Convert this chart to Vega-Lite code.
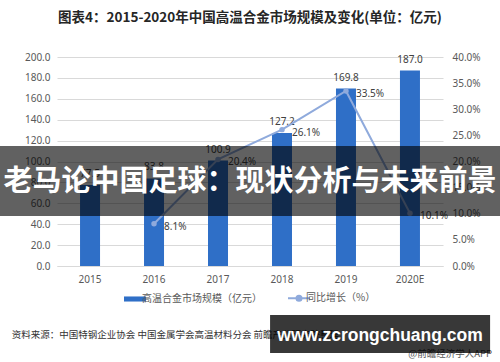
{
  "$schema": "https://vega.github.io/schema/vega-lite/v6.json",
  "autosize": "none",
  "width": 386,
  "height": 209,
  "padding": {"left": 57, "top": 57, "right": 57, "bottom": 96},
  "background": "white",
  "title": {
    "text": "图表4：2015-2020年中国高温合金市场规模及变化(单位：亿元)",
    "anchor": "middle",
    "frame": "group",
    "font": "Noto Sans CJK SC",
    "fontSize": 13.5,
    "fontWeight": "bold",
    "color": "#262626",
    "offset": 28
  },
  "data": {
    "values": [
      {"year": "2015", "size": 77.5, "growth": null},
      {"year": "2016", "size": 83.8, "growth": 0.081},
      {"year": "2017", "size": 100.9, "growth": 0.204},
      {"year": "2018", "size": 127.2, "growth": 0.261},
      {"year": "2019", "size": 169.8, "growth": 0.335},
      {"year": "2020E", "size": 187.0, "growth": 0.101}
    ]
  },
  "layer": [
    {
      "mark": {"type": "bar", "width": 20},
      "encoding": {
        "x": {"field": "year", "type": "nominal", "sort": null, "title": null,
              "axis": {"labelAngle": 0, "domain": true, "domainColor": "#d9d9d9", "ticks": false, "labelPadding": 8, "labelFontSize": 10, "labelColor": "#595959", "labelFont": "Noto Sans"}},
        "y": {"field": "size", "type": "quantitative", "title": null,
              "scale": {"domain": [0, 200], "nice": false},
              "axis": {"values": [0, 20, 40, 60, 80, 100, 120, 140, 160, 180, 200], "format": ".1f", "domain": false, "ticks": false, "labelPadding": 7, "gridColor": "#d9d9d9", "labelFontSize": 10, "labelColor": "#595959", "labelFont": "Noto Sans"}},
        "color": {"datum": "高温合金市场规模（亿元）", "type": "nominal",
                  "scale": {"domain": ["高温合金市场规模（亿元）", "同比增长（%）"], "range": ["#2F6FC7", "#8FAADC"]},
                  "legend": {
                    "orient": "none", "legendX": 73, "legendY": 236, "direction": "horizontal", "title": null,
                    "labelFontSize": 10, "labelColor": "#595959", "labelFont": "Noto Sans CJK SC",
                    "symbolSize": 484, "columnPadding": 22, "labelOffset": 2,
                    "encode": {"symbols": {"update": {
                      "shape": {"signal": "datum.value === '同比增长（%）' ? 'M-1,0H1M-0.23,0A0.23,0.23,0,1,1,0.23,0A0.23,0.23,0,1,1,-0.23,0' : 'M-1,-0.23H1V0.23H-1Z'"},
                      "strokeWidth": {"signal": "datum.value === '同比增长（%）' ? 2 : 0"}
                    }}}
                  }}
      }
    },
    {
      "mark": {"type": "text", "dy": -6, "baseline": "bottom", "fontSize": 10, "color": "#404040", "font": "Noto Sans"},
      "encoding": {
        "x": {"field": "year", "type": "nominal", "sort": null, "axis": null},
        "y": {"field": "size", "type": "quantitative", "scale": {"domain": [0, 200], "nice": false}, "axis": null},
        "text": {"field": "size", "type": "quantitative", "format": ".1f"}
      }
    },
    {
      "transform": [{"filter": "datum.growth != null"}],
      "mark": {"type": "line", "strokeWidth": 2, "point": {"filled": true, "size": 30, "color": "#8FAADC"}},
      "encoding": {
        "x": {"field": "year", "type": "nominal", "sort": null, "axis": null,
              "scale": {"domain": ["2015", "2016", "2017", "2018", "2019", "2020E"]}},
        "y": {"field": "growth", "type": "quantitative", "title": null,
              "scale": {"domain": [0, 0.4], "nice": false},
              "axis": {"orient": "right", "values": [0, 0.05, 0.1, 0.15, 0.2, 0.25, 0.3, 0.35, 0.4], "format": ".1%", "grid": false, "domain": false, "ticks": false, "labelPadding": 9, "labelFontSize": 10, "labelColor": "#595959", "labelFont": "Noto Sans"}},
        "color": {"datum": "同比增长（%）", "type": "nominal"}
      }
    },
    {
      "transform": [{"filter": "datum.growth != null"}],
      "mark": {"type": "text", "align": "left", "dx": 10, "dy": 3, "baseline": "middle", "fontSize": 10, "color": "#404040", "font": "Noto Sans"},
      "encoding": {
        "x": {"field": "year", "type": "nominal", "sort": null, "axis": null,
              "scale": {"domain": ["2015", "2016", "2017", "2018", "2019", "2020E"]}},
        "y": {"field": "growth", "type": "quantitative", "scale": {"domain": [0, 0.4], "nice": false}, "axis": null},
        "text": {"field": "growth", "type": "quantitative", "format": ".1%"}
      }
    },
    {
      "data": {"values": [{"text": "资料来源：中国特钢企业协会 中国金属学会高温材料分会 前瞻产业研究院整理"}]},
      "mark": {"type": "text", "align": "left", "baseline": "middle", "fontSize": 9.5, "color": "#333333", "font": "Noto Sans CJK SC"},
      "encoding": {
        "x": {"datum": -0.117, "type": "quantitative", "scale": {"domain": [0, 1]}, "axis": null},
        "y": {"datum": -66, "type": "quantitative", "scale": {"domain": [0, 200], "nice": false}, "axis": null},
        "text": {"field": "text"}
      }
    },
    {
      "data": {"values": [{"text": "@前瞻经济学人APP"}]},
      "mark": {"type": "text", "align": "right", "baseline": "middle", "fontSize": 9.5, "color": "#555555", "font": "Noto Sans CJK SC"},
      "encoding": {
        "x": {"datum": 1.127, "type": "quantitative", "scale": {"domain": [0, 1]}, "axis": null},
        "y": {"datum": -84, "type": "quantitative", "scale": {"domain": [0, 200], "nice": false}, "axis": null},
        "text": {"field": "text"}
      }
    },
    {
      "data": {"values": [{"text": "www.zcrongchuang.com"}]},
      "mark": {"type": "rect", "color": "#000000", "opacity": 0.78},
      "encoding": {
        "x": {"datum": 0.552, "type": "quantitative", "scale": {"domain": [0, 1]}, "axis": null},
        "x2": {"datum": 1.122},
        "y": {"datum": -46.9, "type": "quantitative", "scale": {"domain": [0, 200], "nice": false}, "axis": null},
        "y2": {"datum": -83.3}
      }
    },
    {
      "data": {"values": [{"text": "www.zcrongchuang.com"}]},
      "mark": {"type": "text", "align": "center", "baseline": "middle", "fontSize": 17.5, "fontWeight": "bold", "color": "#ffffff", "font": "Liberation Sans"},
      "encoding": {
        "x": {"datum": 0.837, "type": "quantitative", "scale": {"domain": [0, 1]}, "axis": null},
        "y": {"datum": -67, "type": "quantitative", "scale": {"domain": [0, 200], "nice": false}, "axis": null},
        "text": {"field": "text"}
      }
    },
    {
      "data": {"values": [{"text": "老马论中国足球：现状分析与未来前景"}]},
      "mark": {"type": "rect", "color": "#000000", "opacity": 0.62},
      "encoding": {
        "x": {"datum": -0.1477, "type": "quantitative", "scale": {"domain": [0, 1]}, "axis": null},
        "x2": {"datum": 1.1477},
        "y": {"datum": 114.8, "type": "quantitative", "scale": {"domain": [0, 200], "nice": false}, "axis": null},
        "y2": {"datum": 47.8}
      }
    },
    {
      "data": {"values": [{"text": "老马论中国足球：现状分析与未来前景"}]},
      "mark": {"type": "text", "align": "center", "baseline": "middle", "fontSize": 29, "fontWeight": "bold", "color": "#ffffff", "font": "Noto Sans CJK SC"},
      "encoding": {
        "x": {"datum": 0.5, "type": "quantitative", "scale": {"domain": [0, 1]}, "axis": null},
        "y": {"datum": 80.4, "type": "quantitative", "scale": {"domain": [0, 200], "nice": false}, "axis": null},
        "text": {"field": "text"}
      }
    }
  ],
  "resolve": {"scale": {"x": "independent", "y": "independent"}},
  "config": {
    "view": {"stroke": null},
    "scale": {"bandPaddingInner": 0.6875, "bandPaddingOuter": 0.36, "pointPadding": 0.516}
  }
}
